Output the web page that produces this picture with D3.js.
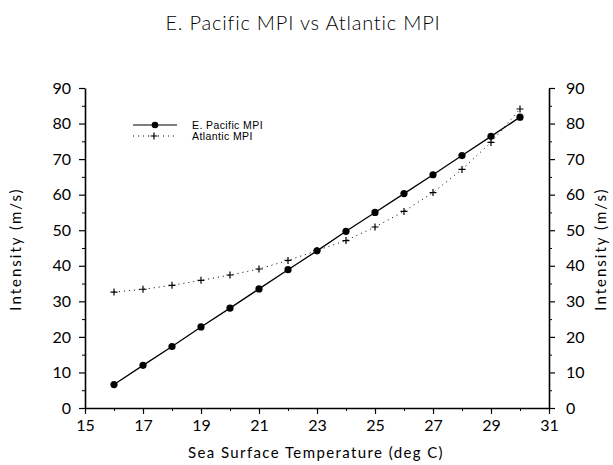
<!DOCTYPE html>
<html><head><meta charset="utf-8">
<script src="https://cdn.jsdelivr.net/npm/d3@7"></script>
<style>body{margin:0;background:#fff}svg{display:block}</style>
</head><body>
<script>
const sst = [16,17,18,19,20,21,22,23,24,25,26,27,28,29,30];
const epacMPI = [6.6,12.0,17.3,22.8,28.1,33.5,38.9,44.2,49.7,55.0,60.3,65.6,71.0,76.4,81.8];
const atlMPI = [32.6,33.4,34.5,35.9,37.4,39.1,41.5,44.3,47.1,50.9,55.3,60.6,67.1,74.7,84.1];
const xTicks = [15,17,19,21,23,25,27,29,31];
const yTicks = [0,10,20,30,40,50,60,70,80,90];

const W=613,H=465;
const svg=d3.select("body").append("svg").attr("width",W).attr("height",H);
const L=85,R=549,T=88,B=408;
const x=d3.scaleLinear().domain([15,31]).range([L,R]);
const y=d3.scaleLinear().domain([0,90]).range([B,T]);
const font="Lato, 'Open Sans', sans-serif";

svg.append("text").attr("x",303).attr("y",30).attr("text-anchor","middle")
  .attr("font-family",font).attr("font-weight",300).attr("font-size",20).attr("letter-spacing",0.8)
  .attr("fill","#000").text("E. Pacific MPI vs Atlantic MPI");

function styleAxis(g){
  g.select(".domain").attr("stroke","#000").attr("stroke-width",1.6);
  g.selectAll(".tick line").attr("stroke","#000").attr("stroke-width",1.2);
  g.selectAll("text").attr("font-family",font).attr("font-weight",400).attr("font-size",16).attr("fill","#000");
}
// minor ticks
const gxm=svg.append("g").attr("transform",`translate(0,${B})`)
  .call(d3.axisBottom(x).tickValues(d3.range(16,31,2)).tickSize(3).tickFormat("").tickSizeOuter(0));
gxm.select(".domain").remove(); gxm.selectAll(".tick line").attr("stroke","#000");
const gylm=svg.append("g").attr("transform",`translate(${L},0)`)
  .call(d3.axisLeft(y).tickValues(d3.range(5,90,10)).tickSize(3).tickFormat("").tickSizeOuter(0));
gylm.select(".domain").remove(); gylm.selectAll(".tick line").attr("stroke","#000");
const gyrm=svg.append("g").attr("transform",`translate(${R},0)`)
  .call(d3.axisRight(y).tickValues(d3.range(5,90,10)).tickSize(3).tickFormat("").tickSizeOuter(0));
gyrm.select(".domain").remove(); gyrm.selectAll(".tick line").attr("stroke","#000");

const gx=svg.append("g").attr("transform",`translate(0,${B})`)
  .call(d3.axisBottom(x).tickValues(xTicks).tickSize(6).tickSizeOuter(0).tickPadding(6));
styleAxis(gx);
const gyl=svg.append("g").attr("transform",`translate(${L},0)`)
  .call(d3.axisLeft(y).tickValues(yTicks).tickSize(6).tickSizeOuter(0).tickPadding(8));
styleAxis(gyl);
const gyr=svg.append("g").attr("transform",`translate(${R},0)`)
  .call(d3.axisRight(y).tickValues(yTicks).tickSize(6).tickSizeOuter(0).tickPadding(11));
styleAxis(gyr);

const lab={ "font-family":font, "font-weight":400, "font-size":15, "letter-spacing":1.4, "fill":"#000" };
function applyLab(t){ Object.entries(lab).forEach(([k,v])=>t.attr(k,v)); return t; }
applyLab(svg.append("text").attr("x",316).attr("y",458).attr("text-anchor","middle"))
  .text("Sea Surface Temperature (deg C)");
applyLab(svg.append("text").attr("transform","translate(21,249) rotate(-90)").attr("text-anchor","middle"))
  .attr("letter-spacing",2).text("Intensity (m/s)");
applyLab(svg.append("text").attr("transform","translate(606,249) rotate(-90)").attr("text-anchor","middle"))
  .attr("letter-spacing",2).text("Intensity (m/s)");

const line=d3.line().x((d,i)=>x(sst[i])).y(d=>y(d));
svg.append("path").datum(atlMPI).attr("d",line).attr("fill","none").attr("stroke","#000")
  .attr("stroke-width",1).attr("stroke-dasharray","1,4");
svg.append("path").datum(epacMPI).attr("d",line).attr("fill","none").attr("stroke","#000").attr("stroke-width",1.3);

function plus(g,cx,cy){
  g.append("path").attr("d",`M${cx-3.5},${cy}H${cx+3.5}M${cx},${cy-3.5}V${cy+3.5}`)
   .attr("stroke","#000").attr("stroke-width",1.2);
}
const ga=svg.append("g");
atlMPI.forEach((v,i)=>plus(ga,x(sst[i]),y(v)));
svg.append("g").selectAll("circle").data(epacMPI).join("circle")
  .attr("cx",(d,i)=>x(sst[i])).attr("cy",d=>y(d)).attr("r",3.6).attr("fill","#000");

// legend
const lg=svg.append("g");
lg.append("line").attr("x1",133).attr("x2",177).attr("y1",125).attr("y2",125).attr("stroke","#000").attr("stroke-width",1.2);
lg.append("circle").attr("cx",155).attr("cy",125).attr("r",3.3).attr("fill","#000");
lg.append("line").attr("x1",133).attr("x2",177).attr("y1",136).attr("y2",136).attr("stroke","#000").attr("stroke-dasharray","1,4");
plus(lg,154,136);
const lf="'Liberation Sans', Arial, sans-serif";
lg.append("text").attr("x",192).attr("y",128.5).attr("font-family",lf).attr("font-size",10.5).attr("letter-spacing",0.4).text("E. Pacific MPI");
lg.append("text").attr("x",192).attr("y",140).attr("font-family",lf).attr("font-size",10.5).attr("letter-spacing",0.4).text("Atlantic MPI");
</script>
</body></html>
